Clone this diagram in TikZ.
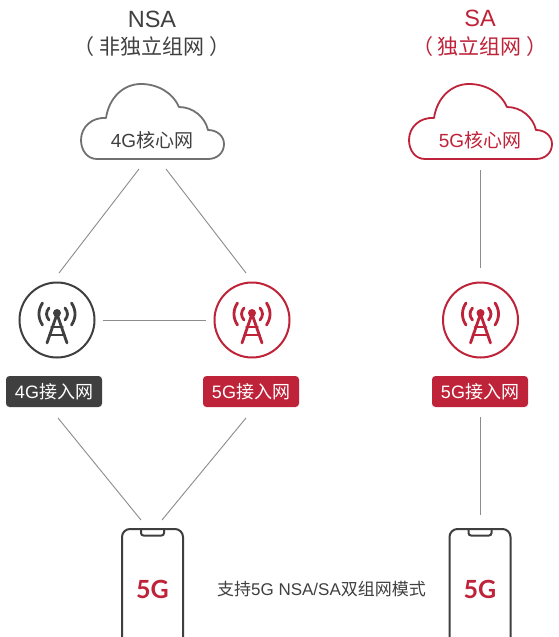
\documentclass[tikz,border=0pt]{standalone}
\usepackage{fontspec}
\setmainfont{Liberation Sans}
\newfontfamily\cjk{Noto Sans CJK SC}[BoldFont={Noto Sans CJK SC}]
\newfontfamily\fiveg{Lato}
\definecolor{dk}{HTML}{3F3F3F}
\definecolor{rd}{HTML}{BF2339}
\definecolor{gl}{HTML}{8C8C8C}
\definecolor{cg}{HTML}{717171}
\definecolor{tx}{HTML}{404040}
\newcommand{\cn}[1]{{\cjk #1}}
\newcommand{\cloudshape}[3]{%
  \begin{scope}[shift={(#1,#2)}]
  \draw[line width=1.8pt,draw=#3,fill=white,line join=round]
    (16,75) .. controls (6,75) and (0,66) .. (0,56)
    .. controls (0,43) and (11,33) .. (25,34)
    .. controls (28,14) and (42,0) .. (60,0)
    .. controls (77,0) and (92,9) .. (98,23)
    .. controls (112,23) and (124,33) .. (127,46)
    .. controls (136,46) and (143,52) .. (143,60)
    .. controls (143,69) and (136,75) .. (127,75) -- cycle;
  \end{scope}}
\newcommand{\towericon}[3]{%
  \begin{scope}[shift={(#1,#2)},draw=#3,line cap=round,line join=round,line width=2.8pt]
  \fill[#3] (0,-7) circle (4);
  \draw (-10,23) -- (0,-6) -- (10,23);
  \draw (-5.5,7) -- (5.5,7);
  \draw (-7.5,15) -- (7.5,15);
  \draw (-8,-12) .. controls (-11.3,-8) and (-11.3,-4) .. (-8,0);
  \draw (8,-12) .. controls (11.3,-8) and (11.3,-4) .. (8,0);
  \draw (-14.5,-17) .. controls (-19.2,-10) and (-19.2,-2) .. (-14.5,5);
  \draw (14.5,-17) .. controls (19.2,-10) and (19.2,-2) .. (14.5,5);
  \end{scope}}
\newcommand{\phoneshape}[1]{%
  \begin{scope}[shift={(#1,0)}]
  \draw[line width=2pt,draw=dk,rounded corners=8pt] (-30.5,529) rectangle (30.5,649);
  \draw[line width=2pt,draw=dk,rounded corners=2.5pt] (-11.5,529) -- (-11.5,535.5) -- (11.5,535.5) -- (11.5,529);
  \end{scope}}
\tikzset{
  every node/.style={inner sep=0pt,outer sep=0pt},
  heading/.style={font=\fontsize{23.5}{26}\selectfont,text=tx},
  subhead/.style={font=\fontsize{21}{24}\selectfont,text=tx},
  heading red/.style={font=\fontsize{23.5}{26}\selectfont,text=rd},
  subhead red/.style={font=\fontsize{21}{24}\selectfont,text=rd},
  cloudtext/.style={font=\fontsize{19}{21}\selectfont},
  ring/.style={circle,draw,line width=2pt,minimum size=75pt},
  tag/.style={rectangle,rounded corners=3.5pt,minimum width=96pt,minimum height=31pt,text=white,font=\fontsize{18}{20}\selectfont},
  link/.style={draw=gl,line width=0.9pt},
  gtext/.style={text=rd,font=\fiveg\bfseries\fontsize{25}{27}\selectfont},
}
\begin{document}
\begin{tikzpicture}[x=1pt,y=-1pt]
\useasboundingbox (0,0) rectangle (558,637);
\clip (0,0) rectangle (558,637);
\fill[white] (0,0) rectangle (558,637);

\node[heading] (t1) at (152,19) {NSA};
\node[subhead] (t1b) at (152,47) {\cn{（ 非独立组网 ）}};
\node[heading red] (t2) at (480,18) {SA};
\node[subhead red] (t2b) at (480,47) {\cn{（ 独立组网 ）}};

\cloudshape{81}{84}{cg}
\cloudshape{409}{84}{rd}
\node[cloudtext,text=tx] (cloud4) at (152,140) {4G\cn{核心网}};
\node[cloudtext,text=rd] (cloud5) at (480,140) {5G\cn{核心网}};

\node[ring,draw=dk] (bs4) at (57,320) {};
\node[ring,draw=rd] (bs5) at (252,320) {};
\node[ring,draw=rd] (bs5b) at (480.5,320) {};
\towericon{57}{320}{dk}
\towericon{252}{320}{rd}
\towericon{480.5}{320}{rd}

\node[tag,fill=dk] (ran4) at (54,391.5) {4G\cn{接入网}};
\node[tag,fill=rd] (ran5) at (251,391.5) {5G\cn{接入网}};
\node[tag,fill=rd] (ran5b) at (480,391.5) {5G\cn{接入网}};

\phoneshape{152.5}
\phoneshape{480}
\node[gtext] (g1) at (152.5,589) {5G};
\node[gtext] (g2) at (480,589) {5G};
\node[font=\fontsize{17}{19}\selectfont,text=tx] (note) at (321.5,589) {\cn{支持}5G NSA/SA\cn{双组网模式}};

\coordinate (a1) at (139,169); \coordinate (a2) at (59,273);
\coordinate (b1) at (166,169); \coordinate (b2) at (246,273);
\coordinate (c1) at (58,418);  \coordinate (c2) at (141,520);
\coordinate (d1) at (246,418); \coordinate (d2) at (162,520);
\coordinate (e1) at (480,170); \coordinate (e2) at (480,268);
\coordinate (f1) at (480,417); \coordinate (f2) at (480,515);
\draw[link] (a1) -- (a2);
\draw[link] (b1) -- (b2);
\draw[link,shorten <=8.5pt,shorten >=8.5pt] (bs4) -- (bs5);
\draw[link] (c1) -- (c2);
\draw[link] (d1) -- (d2);
\draw[link] (e1) -- (e2);
\draw[link] (f1) -- (f2);
\end{tikzpicture}
\end{document}
